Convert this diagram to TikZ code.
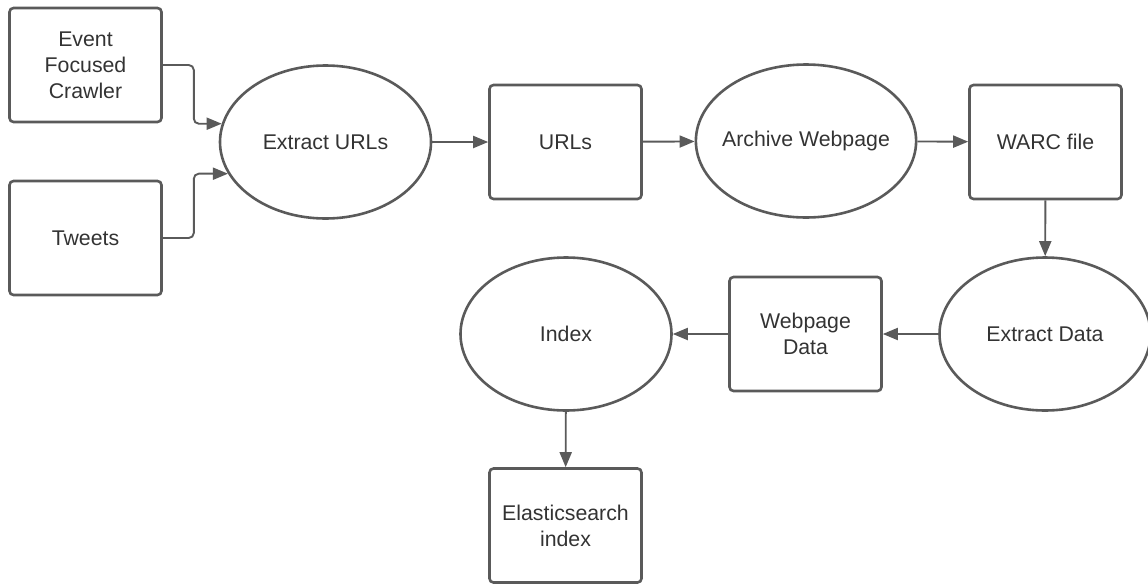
\documentclass[tikz,border=0pt]{standalone}
\usepackage{fontspec}
\setmainfont{Liberation Sans}
\usetikzlibrary{shapes.geometric, arrows.meta}

\definecolor{lineGray}{HTML}{5A5A5A}
\definecolor{textGray}{HTML}{333333}

\tikzset{
	box/.style={
		shape=rectangle,
		rounded corners=4pt,
		draw=lineGray,
		line width=2.6pt,
		minimum width=152pt,
		minimum height=114pt,
		align=center,
		text=textGray,
		font=\fontsize{21.3}{26}\selectfont},
	oval/.style={
		shape=ellipse,
		draw=lineGray,
		line width=2.6pt,
		minimum width=211pt,
		minimum height=153pt,
		inner xsep=-6pt,
		inner ysep=0pt,
		align=center,
		text=textGray,
		font=\fontsize{21.3}{26}\selectfont},
	flow/.style={
		draw=lineGray,
		line width=1.9pt,
		rounded corners=5pt,
		-{Triangle[length=15pt,width=12pt]}}
}

\begin{document}
\begin{tikzpicture}[x=1pt, y=-1pt]
	\useasboundingbox (0,0) rectangle (1148,584);

	% top row
	\node[box] (crawler) at (85.5,65) {Event\\Focused\\Crawler};
	\node[box] (tweets)  at (85.5,238) {Tweets};
	\node[oval] (extracturls) at (325.5,142) {Extract URLs};
	\node[box] (urls)    at (565.5,142) {URLs};
	\node[oval] (archive) at (806,141) {Archive Webpage};
	\node[box] (warc)    at (1045.5,142) {WARC file};

	% bottom row
	\node[oval] (extractdata) at (1045,334) {Extract Data};
	\node[box] (webdata) at (805.5,334) {Webpage\\Data};
	\node[oval] (index)  at (566,334) {Index};
	\node[box] (elastic) at (565.5,525.5) {Elasticsearch\\index};

	\draw[flow] (crawler.east) -- ++(31,0) |- (extracturls.170);
	\draw[flow] (tweets.east)  -- ++(31,0) |- (extracturls.198);
	\draw[flow] (extracturls) -- (urls);
	\draw[flow] (urls) -- (archive);
	\draw[flow] (archive) -- (warc);
	\draw[flow] (warc) -- (extractdata);
	\draw[flow] (extractdata) -- (webdata);
	\draw[flow] (webdata) -- (index);
	\draw[flow] (index) -- (elastic);
\end{tikzpicture}
\end{document}
